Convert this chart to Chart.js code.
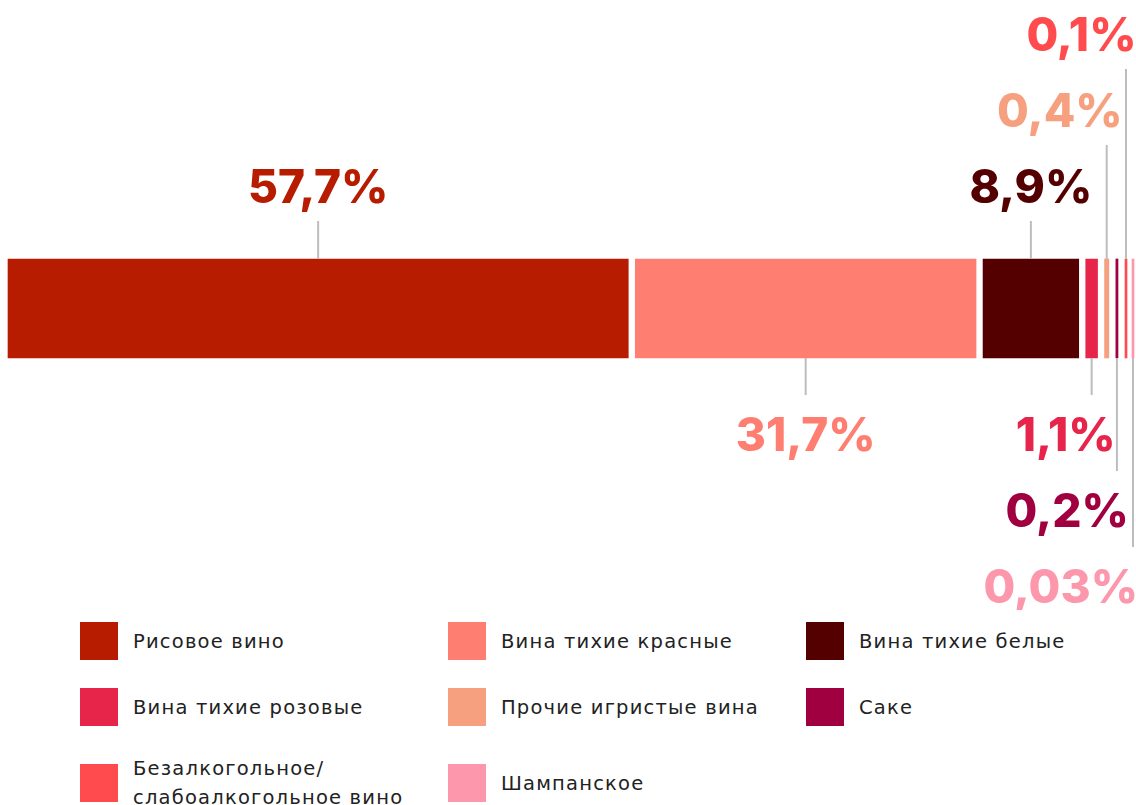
<!DOCTYPE html>
<html lang="ru">
<head>
<meta charset="utf-8">
<title>Структура продаж вина</title>
<script src="https://cdn.jsdelivr.net/npm/chart.js@4.4.1/dist/chart.umd.min.js"></script>
<style>
  html, body { margin: 0; padding: 0; background: #ffffff; }
  body { width: 1136px; height: 805px; position: relative; overflow: hidden; }
  #chartBox { position: absolute; left: 0; top: 0; width: 1136px; height: 610px; }
  #legend {
    position: absolute; left: 80px; top: 622px;
    display: grid; grid-template-columns: 368px 358px 300px;
    row-gap: 28px; align-items: center;
    font-family: "DejaVu Sans", sans-serif; font-size: 19.5px; color: #222222;
  }
  .item { display: flex; align-items: center; }
  .swatch { flex: none; width: 38px; height: 38px; margin-right: 15px; }
  .text { line-height: 29px; white-space: pre-line; letter-spacing: 1.2px; }
</style>
</head>
<body>
<div id="chartBox"><canvas id="chart"></canvas></div>
<div id="legend"></div>
<script>
// Categories, shares (%) and colours of the stacked bar
const categories = [
  'Рисовое вино',
  'Вина тихие красные',
  'Вина тихие белые',
  'Вина тихие розовые',
  'Прочие игристые вина',
  'Саке',
  'Безалкогольное/\nслабоалкогольное вино',
  'Шампанское'
];
const shares = [57.7, 31.7, 8.9, 1.1, 0.4, 0.2, 0.1, 0.03];
const colors = ['#b71c01', '#ff7e72', '#550000', '#e7254b', '#f6a080', '#a0003f', '#ff4b4d', '#fc97ac'];

// Where each value label sits: above/below the bar, tier of the callout, alignment
const labelPlacement = [
  { side: 'up',   tier: 0, align: 'center', dx: 0 },
  { side: 'down', tier: 0, align: 'center', dx: 0 },
  { side: 'up',   tier: 0, align: 'center', dx: 0 },
  { side: 'down', tier: 0, align: 'right',  dx: 24 },
  { side: 'up',   tier: 1, align: 'right',  dx: 16 },
  { side: 'down', tier: 1, align: 'right',  dx: 12 },
  { side: 'up',   tier: 2, align: 'right',  dx: 10.5 },
  { side: 'down', tier: 2, align: 'right',  dx: 5 }
];

const GAP_PX = 7;        // white gap between neighbouring segments
const TIER_PX = 76;      // vertical step between callout tiers
const fmt = v => String(v).replace('.', ',') + '%';

// Separate the stacked segments by a fixed pixel gap
const segmentGaps = {
  id: 'segmentGaps',
  afterDatasetsUpdate(chart) {
    chart.data.datasets.forEach((ds, i) => {
      chart.getDatasetMeta(i).data.forEach(el => {
        el.x += i * GAP_PX;
        el.base += i * GAP_PX;
      });
    });
  }
};

// Leader lines and percentage callouts
const calloutLabels = {
  id: 'calloutLabels',
  afterDatasetsDraw(chart) {
    const ctx = chart.ctx;
    ctx.save();
    chart.data.datasets.forEach((ds, i) => {
      const el = chart.getDatasetMeta(i).data[0];
      const p = labelPlacement[i];
      const cx = (el.x + el.base) / 2;
      const half = el.height / 2;
      let y0, y1, baseline;
      if (p.side === 'up') {
        y0 = el.y - half;
        y1 = y0 - 38 - TIER_PX * p.tier;
        baseline = y1 - 18;
      } else {
        y0 = el.y + half;
        y1 = y0 + 37 + TIER_PX * p.tier;
        baseline = y1 + 56;
      }
      ctx.strokeStyle = '#bdbdbd';
      ctx.lineWidth = 2;
      ctx.beginPath();
      ctx.moveTo(cx, y0);
      ctx.lineTo(cx, y1);
      ctx.stroke();

      ctx.font = '800 46px Inter, "Open Sans", sans-serif';
      ctx.fillStyle = ds.backgroundColor;
      ctx.textBaseline = 'alphabetic';
      ctx.textAlign = p.align;
      const tx = p.align === 'center' ? cx : Math.min(cx + p.dx, chart.width + 3);
      ctx.fillText(fmt(ds.data[0]), tx, baseline);
    });
    ctx.restore();
  }
};

const chart = new Chart(document.getElementById('chart'), {
  type: 'bar',
  data: {
    labels: ['Доля'],
    datasets: categories.map((name, i) => ({
      label: name,
      data: [shares[i]],
      backgroundColor: colors[i],
      borderWidth: 0,
      barPercentage: 1,
      categoryPercentage: 1,
      minBarLength: 2,
      clip: false
    }))
  },
  options: {
    indexAxis: 'y',
    responsive: true,
    maintainAspectRatio: false,
    animation: false,
    layout: { padding: { left: 8, right: 53, top: 259, bottom: 252 } },
    scales: {
      x: { stacked: true, min: 0, max: 100, display: false },
      y: { stacked: true, display: false }
    },
    plugins: { legend: { display: false }, tooltip: { enabled: false } },
    events: []
  },
  plugins: [segmentGaps, calloutLabels]
});

// Legend in three columns, built from the chart's datasets
const legendEl = document.getElementById('legend');
chart.data.datasets.forEach(ds => {
  const item = document.createElement('div');
  item.className = 'item';
  const sw = document.createElement('span');
  sw.className = 'swatch';
  sw.style.background = ds.backgroundColor;
  const tx = document.createElement('span');
  tx.className = 'text';
  tx.textContent = ds.label;
  item.appendChild(sw);
  item.appendChild(tx);
  legendEl.appendChild(item);
});
</script>
</body>
</html>
